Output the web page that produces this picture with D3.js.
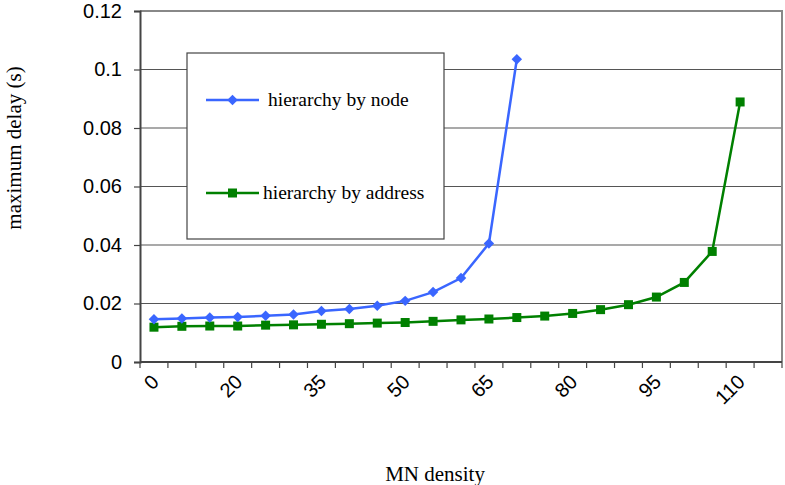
<!DOCTYPE html>
<html>
<head>
<meta charset="utf-8">
<script src="https://cdn.jsdelivr.net/npm/d3@7"></script>
<style>
  body { margin: 0; background: #fff; }
</style>
</head>
<body>
<svg id="chart" width="785" height="485"></svg>
<script>
// categories along the x axis (only every third one is labelled)
const densities = ["0", "10", "15", "20", "25", "30", "35", "40", "45", "50", "55", "60",
  "65", "70", "75", "80", "85", "90", "95", "100", "105", "110", "115"];
const shownLabels = ["0", "20", "35", "50", "65", "80", "95", "110"];

const byNode = [0.0146, 0.0149, 0.0152, 0.0154, 0.0158, 0.0162, 0.0174, 0.0181, 0.0192,
  0.0209, 0.0239, 0.0287, 0.0405, 0.1035];
const byAddress = [0.0119, 0.0122, 0.0123, 0.0123, 0.0126, 0.0127, 0.0129, 0.0131, 0.0133,
  0.0135, 0.0139, 0.0144, 0.0147, 0.0152, 0.0157, 0.0166, 0.0179, 0.0196, 0.0222,
  0.0272, 0.0378, 0.0889];
const yTicks = [0, 0.02, 0.04, 0.06, 0.08, 0.1, 0.12];

const margin = { top: 11, right: 3, bottom: 123, left: 140 };
const width = 785 - margin.left - margin.right;
const height = 485 - margin.top - margin.bottom;

const svgEl = d3.select("#chart");
const svg = svgEl.append("g").attr("transform", `translate(${margin.left},${margin.top})`);

const x = d3.scaleBand().domain(densities).range([0, width]).padding(0);
const y = d3.scaleLinear().domain([0, 0.12]).range([height, 0]);
const cx = (i) => x(densities[i]) + x.bandwidth() / 2;

// grid lines
svg.append("g")
  .selectAll("line")
  .data(yTicks.slice(1, -1))
  .join("line")
  .attr("x1", 0).attr("x2", width)
  .attr("y1", (d) => y(d)).attr("y2", (d) => y(d))
  .attr("stroke", "#555").attr("stroke-width", 1.2);

// plot border (top and right)
svg.append("path")
  .attr("d", `M0,${y(0.12)}H${width}V${height}`)
  .attr("fill", "none").attr("stroke", "#888").attr("stroke-width", 2);

// y axis
const yAxis = d3.axisLeft(y).tickValues(yTicks).tickSize(6).tickPadding(12)
  .tickFormat((d) => d3.format("~g")(d));
const yAxisGroup = svg.append("g").call(yAxis);
yAxisGroup.select(".domain").attr("stroke", "#444").attr("stroke-width", 2);
yAxisGroup.selectAll("line").attr("stroke", "#444").attr("stroke-width", 1.2);
yAxisGroup.selectAll("text")
  .attr("fill", "#000")
  .attr("font-family", "Liberation Sans, Arial, sans-serif")
  .attr("font-size", "20px");

// x axis: ticks at category edges
const xAxisGroup = svg.append("g").attr("transform", `translate(0,${height})`);
xAxisGroup.append("line")
  .attr("x1", 0).attr("x2", width)
  .attr("stroke", "#444").attr("stroke-width", 2);
xAxisGroup.selectAll(".tk")
  .data(densities.concat(["end"]))
  .join("line")
  .attr("class", "tk")
  .attr("x1", (d, i) => i * x.bandwidth()).attr("x2", (d, i) => i * x.bandwidth())
  .attr("y1", 0).attr("y2", 6)
  .attr("stroke", "#444").attr("stroke-width", 1.2);
xAxisGroup.selectAll("text")
  .data(shownLabels)
  .join("text")
  .attr("transform", (d) => `translate(${x(d) + x.bandwidth() / 2 - 4},${11}) rotate(-45)`)
  .attr("text-anchor", "end")
  .attr("dy", "0.71em")
  .attr("font-family", "Liberation Sans, Arial, sans-serif")
  .attr("font-size", "20px")
  .text((d) => d);

// axis titles
svgEl.append("text")
  .attr("x", 435).attr("y", 481)
  .attr("text-anchor", "middle")
  .attr("font-family", "Liberation Serif, Times New Roman, serif")
  .attr("font-size", "21px")
  .text("MN density");
svgEl.append("text")
  .attr("transform", "translate(21,148) rotate(-90)")
  .attr("text-anchor", "middle")
  .attr("font-family", "Liberation Serif, Times New Roman, serif")
  .attr("font-size", "21px")
  .text("maximum delay (s)");

// lines
const line = d3.line().x((d, i) => cx(i)).y((d) => y(d));
const blue = "#3a66ff";
const green = "#008000";

svg.append("path").datum(byAddress)
  .attr("fill", "none").attr("stroke", green).attr("stroke-width", 2.5).attr("d", line);
svg.append("g").selectAll("rect").data(byAddress).join("rect")
  .attr("x", (d, i) => cx(i) - 4.5).attr("y", (d) => y(d) - 4.5)
  .attr("width", 9).attr("height", 9).attr("fill", green);

svg.append("path").datum(byNode)
  .attr("fill", "none").attr("stroke", blue).attr("stroke-width", 2.5).attr("d", line);
const diamond = d3.symbol().type(d3.symbolDiamond2).size(70);
svg.append("g").selectAll("path").data(byNode).join("path")
  .attr("transform", (d, i) => `translate(${cx(i)},${y(d)})`)
  .attr("d", diamond).attr("fill", blue);

// legend
const legend = svgEl.append("g").attr("transform", "translate(187,53)");
legend.append("rect")
  .attr("width", 257).attr("height", 186)
  .attr("fill", "#fff").attr("stroke", "#444").attr("stroke-width", 1.2);
const legendItems = [
  { name: "hierarchy by node", color: blue, marker: "diamond", y: 47, tx: 81 },
  { name: "hierarchy by address", color: green, marker: "square", y: 140, tx: 76 }
];
legendItems.forEach((d) => {
  const g = legend.append("g").attr("transform", `translate(0,${d.y})`);
  g.append("line").attr("x1", 19).attr("x2", 72)
    .attr("stroke", d.color).attr("stroke-width", 2.5);
  if (d.marker === "diamond") {
    g.append("path").attr("transform", "translate(45.5,0)").attr("d", diamond).attr("fill", d.color);
  } else {
    g.append("rect").attr("x", 41).attr("y", -4.5).attr("width", 9).attr("height", 9).attr("fill", d.color);
  }
  g.append("text").attr("x", d.tx).attr("dy", "0.32em")
    .attr("font-family", "Liberation Serif, Times New Roman, serif")
    .attr("font-size", "19.5px")
    .text(d.name);
});
</script>
</body>
</html>
